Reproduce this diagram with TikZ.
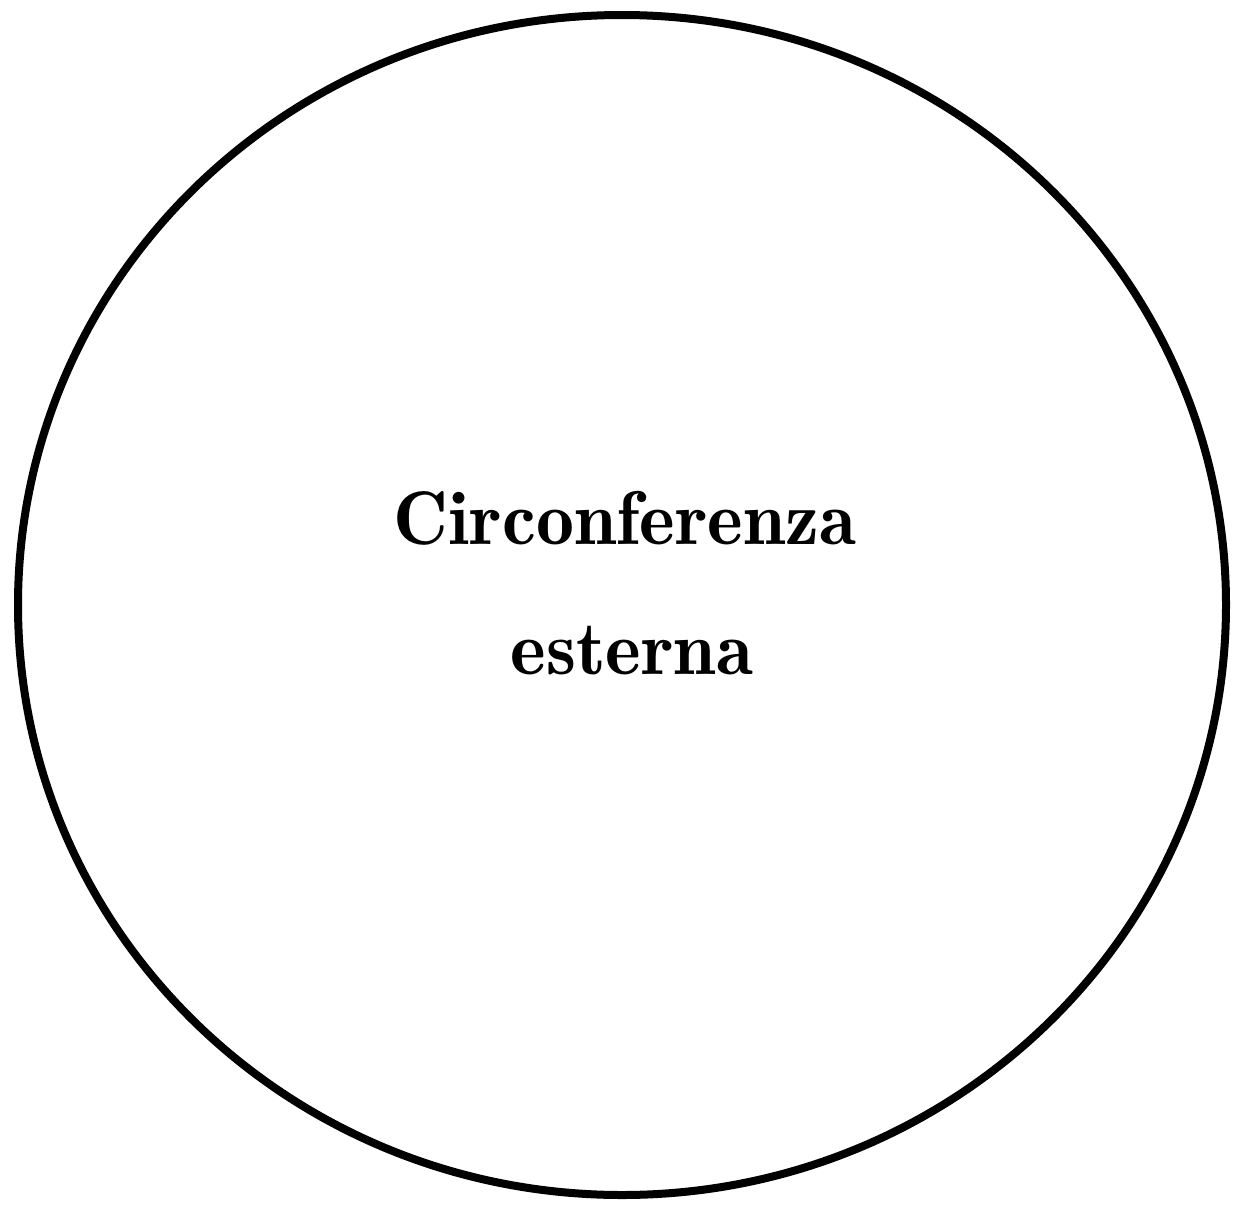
\documentclass[tikz,border=0pt]{standalone}
\tikzset{
  rim/.style={line width=8pt, draw=black},
  caption/.style={font=\fontsize{76}{88}\fontseries{b}\selectfont, inner sep=0pt, anchor=base}
}
\begin{document}
\begin{tikzpicture}[x=1pt,y=-1pt]
\useasboundingbox (0,0) rectangle (1237,1205);
\coordinate (c) at (622,605);
\draw[rim] (c) ellipse [x radius=604, y radius=590];
\node[caption] (l1) at (625,544) {Circonferenza};
\node[caption] (l2) at (632,674) {esterna};
\end{tikzpicture}
\end{document}
